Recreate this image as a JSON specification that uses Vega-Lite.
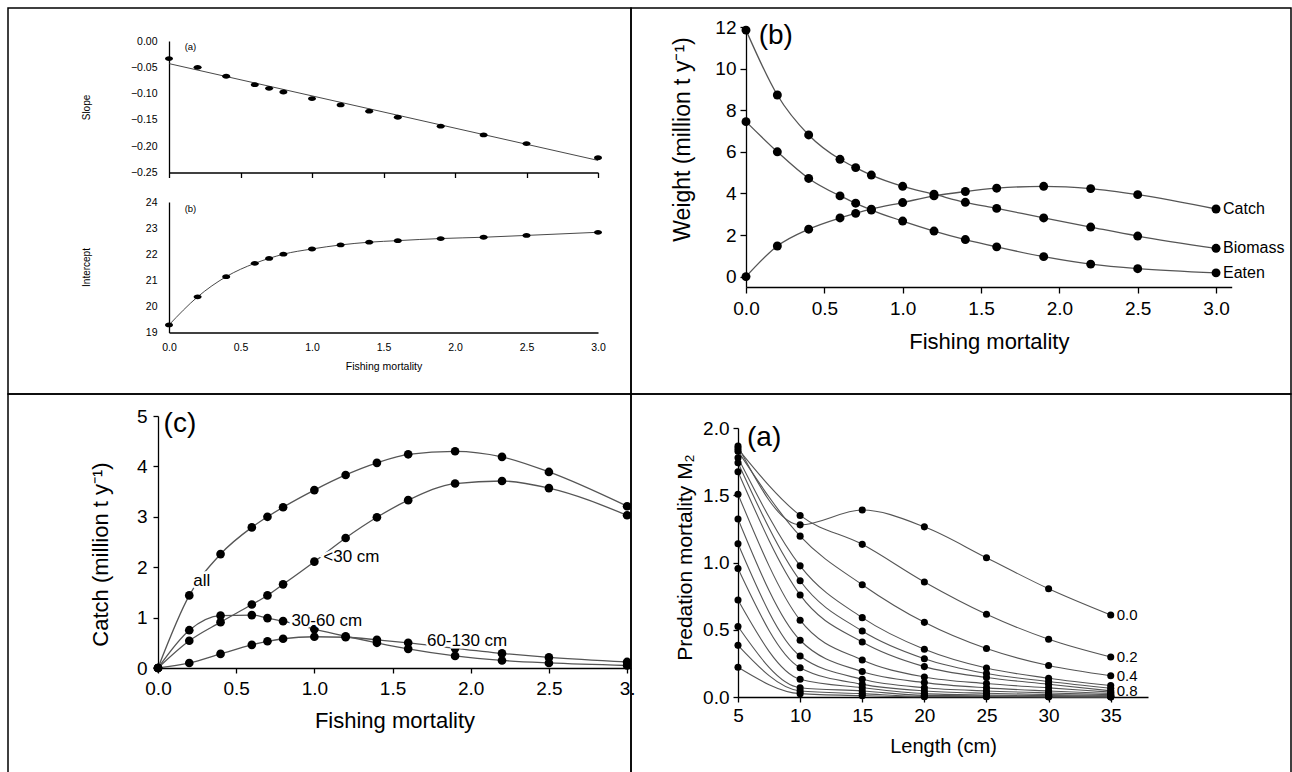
{
  "$schema": "https://vega.github.io/schema/vega-lite/v6.json",
  "padding": {"left": 7, "top": 7, "right": 0, "bottom": 0},
  "background": "white",
  "datasets": {
    "tl_slope": [
      {"F": 0, "slope": -0.0335}, {"F": 0.2, "slope": -0.05}, {"F": 0.4, "slope": -0.067}, {"F": 0.6, "slope": -0.083},
      {"F": 0.7, "slope": -0.09}, {"F": 0.8, "slope": -0.097}, {"F": 1.0, "slope": -0.1095}, {"F": 1.2, "slope": -0.1215},
      {"F": 1.4, "slope": -0.1335}, {"F": 1.6, "slope": -0.145}, {"F": 1.9, "slope": -0.162}, {"F": 2.2, "slope": -0.1785},
      {"F": 2.5, "slope": -0.195}, {"F": 3.0, "slope": -0.222}
    ],
    "tl_fit": [{"F": 0, "slope": -0.043}, {"F": 3.0, "slope": -0.227}],
    "tl_int": [
      {"F": 0, "intercept": 19.29}, {"F": 0.2, "intercept": 20.365}, {"F": 0.4, "intercept": 21.14}, {"F": 0.6, "intercept": 21.65},
      {"F": 0.7, "intercept": 21.84}, {"F": 0.8, "intercept": 22.0}, {"F": 1.0, "intercept": 22.2}, {"F": 1.2, "intercept": 22.355},
      {"F": 1.4, "intercept": 22.46}, {"F": 1.6, "intercept": 22.52}, {"F": 1.9, "intercept": 22.6}, {"F": 2.2, "intercept": 22.65},
      {"F": 2.5, "intercept": 22.72}, {"F": 3.0, "intercept": 22.84}
    ],
    "tr": [
      {"series": "Catch", "F": 0, "W": 0}, {"series": "Catch", "F": 0.2, "W": 1.47}, {"series": "Catch", "F": 0.4, "W": 2.28}, {"series": "Catch", "F": 0.6, "W": 2.82},
      {"series": "Catch", "F": 0.7, "W": 3.04}, {"series": "Catch", "F": 0.8, "W": 3.24}, {"series": "Catch", "F": 1.0, "W": 3.56}, {"series": "Catch", "F": 1.2, "W": 3.88},
      {"series": "Catch", "F": 1.4, "W": 4.09}, {"series": "Catch", "F": 1.6, "W": 4.25}, {"series": "Catch", "F": 1.9, "W": 4.34}, {"series": "Catch", "F": 2.2, "W": 4.23},
      {"series": "Catch", "F": 2.5, "W": 3.94}, {"series": "Catch", "F": 3.0, "W": 3.25},
      {"series": "Biomass", "F": 0, "W": 11.85}, {"series": "Biomass", "F": 0.2, "W": 8.73}, {"series": "Biomass", "F": 0.4, "W": 6.81}, {"series": "Biomass", "F": 0.6, "W": 5.64},
      {"series": "Biomass", "F": 0.7, "W": 5.24}, {"series": "Biomass", "F": 0.8, "W": 4.88}, {"series": "Biomass", "F": 1.0, "W": 4.34}, {"series": "Biomass", "F": 1.2, "W": 3.96},
      {"series": "Biomass", "F": 1.4, "W": 3.57}, {"series": "Biomass", "F": 1.6, "W": 3.28}, {"series": "Biomass", "F": 1.9, "W": 2.82}, {"series": "Biomass", "F": 2.2, "W": 2.38},
      {"series": "Biomass", "F": 2.5, "W": 1.95}, {"series": "Biomass", "F": 3.0, "W": 1.36},
      {"series": "Eaten", "F": 0, "W": 7.45}, {"series": "Eaten", "F": 0.2, "W": 6.0}, {"series": "Eaten", "F": 0.4, "W": 4.72}, {"series": "Eaten", "F": 0.6, "W": 3.88},
      {"series": "Eaten", "F": 0.7, "W": 3.53}, {"series": "Eaten", "F": 0.8, "W": 3.2}, {"series": "Eaten", "F": 1.0, "W": 2.67}, {"series": "Eaten", "F": 1.2, "W": 2.19},
      {"series": "Eaten", "F": 1.4, "W": 1.78}, {"series": "Eaten", "F": 1.6, "W": 1.43}, {"series": "Eaten", "F": 1.9, "W": 0.96}, {"series": "Eaten", "F": 2.2, "W": 0.6},
      {"series": "Eaten", "F": 2.5, "W": 0.38}, {"series": "Eaten", "F": 3.0, "W": 0.18}
    ],
    "bl": [
      {"group": "all", "F": 0, "C": 0}, {"group": "all", "F": 0.2, "C": 1.44}, {"group": "all", "F": 0.4, "C": 2.26}, {"group": "all", "F": 0.6, "C": 2.79},
      {"group": "all", "F": 0.7, "C": 3.0}, {"group": "all", "F": 0.8, "C": 3.19}, {"group": "all", "F": 1.0, "C": 3.53}, {"group": "all", "F": 1.2, "C": 3.83},
      {"group": "all", "F": 1.4, "C": 4.07}, {"group": "all", "F": 1.6, "C": 4.24}, {"group": "all", "F": 1.9, "C": 4.3}, {"group": "all", "F": 2.2, "C": 4.19},
      {"group": "all", "F": 2.5, "C": 3.89}, {"group": "all", "F": 3.0, "C": 3.21},
      {"group": "<30 cm", "F": 0, "C": 0}, {"group": "<30 cm", "F": 0.2, "C": 0.54}, {"group": "<30 cm", "F": 0.4, "C": 0.91}, {"group": "<30 cm", "F": 0.6, "C": 1.26},
      {"group": "<30 cm", "F": 0.7, "C": 1.44}, {"group": "<30 cm", "F": 0.8, "C": 1.66}, {"group": "<30 cm", "F": 1.0, "C": 2.11}, {"group": "<30 cm", "F": 1.2, "C": 2.58},
      {"group": "<30 cm", "F": 1.4, "C": 2.99}, {"group": "<30 cm", "F": 1.6, "C": 3.33}, {"group": "<30 cm", "F": 1.9, "C": 3.66}, {"group": "<30 cm", "F": 2.2, "C": 3.71},
      {"group": "<30 cm", "F": 2.5, "C": 3.57}, {"group": "<30 cm", "F": 3.0, "C": 3.03},
      {"group": "30-60 cm", "F": 0, "C": 0}, {"group": "30-60 cm", "F": 0.2, "C": 0.75}, {"group": "30-60 cm", "F": 0.4, "C": 1.04}, {"group": "30-60 cm", "F": 0.6, "C": 1.05},
      {"group": "30-60 cm", "F": 0.7, "C": 0.99}, {"group": "30-60 cm", "F": 0.8, "C": 0.93}, {"group": "30-60 cm", "F": 1.0, "C": 0.77}, {"group": "30-60 cm", "F": 1.2, "C": 0.63},
      {"group": "30-60 cm", "F": 1.4, "C": 0.5}, {"group": "30-60 cm", "F": 1.6, "C": 0.38}, {"group": "30-60 cm", "F": 1.9, "C": 0.24}, {"group": "30-60 cm", "F": 2.2, "C": 0.15},
      {"group": "30-60 cm", "F": 2.5, "C": 0.1}, {"group": "30-60 cm", "F": 3.0, "C": 0.05},
      {"group": "60-130 cm", "F": 0, "C": 0}, {"group": "60-130 cm", "F": 0.2, "C": 0.1}, {"group": "60-130 cm", "F": 0.4, "C": 0.28}, {"group": "60-130 cm", "F": 0.6, "C": 0.46},
      {"group": "60-130 cm", "F": 0.7, "C": 0.53}, {"group": "60-130 cm", "F": 0.8, "C": 0.58}, {"group": "60-130 cm", "F": 1.0, "C": 0.62}, {"group": "60-130 cm", "F": 1.2, "C": 0.61},
      {"group": "60-130 cm", "F": 1.4, "C": 0.56}, {"group": "60-130 cm", "F": 1.6, "C": 0.5}, {"group": "60-130 cm", "F": 1.9, "C": 0.39}, {"group": "60-130 cm", "F": 2.2, "C": 0.29},
      {"group": "60-130 cm", "F": 2.5, "C": 0.21}, {"group": "60-130 cm", "F": 3.0, "C": 0.12}
    ],
    "bl_labels": [
      {"F": 0.225, "C": 1.72, "label": "all"},
      {"F": 1.057, "C": 2.2, "label": "<30 cm"},
      {"F": 0.853, "C": 0.93, "label": "30-60 cm"},
      {"F": 1.72, "C": 0.54, "label": "60-130 cm"}
    ],
    "br": [
      {"F": 0.0, "L": 5, "M": 1.865}, {"F": 0.0, "L": 10, "M": 1.28}, {"F": 0.0, "L": 15, "M": 1.39}, {"F": 0.0, "L": 20, "M": 1.265}, {"F": 0.0, "L": 25, "M": 1.035}, {"F": 0.0, "L": 30, "M": 0.805}, {"F": 0.0, "L": 35, "M": 0.61},
      {"F": 0.2, "L": 5, "M": 1.845}, {"F": 0.2, "L": 10, "M": 1.35}, {"F": 0.2, "L": 15, "M": 1.135}, {"F": 0.2, "L": 20, "M": 0.855}, {"F": 0.2, "L": 25, "M": 0.615}, {"F": 0.2, "L": 30, "M": 0.43}, {"F": 0.2, "L": 35, "M": 0.298},
      {"F": 0.4, "L": 5, "M": 1.828}, {"F": 0.4, "L": 10, "M": 1.196}, {"F": 0.4, "L": 15, "M": 0.835}, {"F": 0.4, "L": 20, "M": 0.555}, {"F": 0.4, "L": 25, "M": 0.36}, {"F": 0.4, "L": 30, "M": 0.234}, {"F": 0.4, "L": 35, "M": 0.158},
      {"F": 0.6, "L": 5, "M": 1.779}, {"F": 0.6, "L": 10, "M": 0.975}, {"F": 0.6, "L": 15, "M": 0.59}, {"F": 0.6, "L": 20, "M": 0.355}, {"F": 0.6, "L": 25, "M": 0.215}, {"F": 0.6, "L": 30, "M": 0.14}, {"F": 0.6, "L": 35, "M": 0.085},
      {"F": 0.7, "L": 5, "M": 1.742}, {"F": 0.7, "L": 10, "M": 0.864}, {"F": 0.7, "L": 15, "M": 0.491}, {"F": 0.7, "L": 20, "M": 0.285}, {"F": 0.7, "L": 25, "M": 0.175}, {"F": 0.7, "L": 30, "M": 0.115}, {"F": 0.7, "L": 35, "M": 0.065},
      {"F": 0.8, "L": 5, "M": 1.675}, {"F": 0.8, "L": 10, "M": 0.759}, {"F": 0.8, "L": 15, "M": 0.409}, {"F": 0.8, "L": 20, "M": 0.226}, {"F": 0.8, "L": 25, "M": 0.145}, {"F": 0.8, "L": 30, "M": 0.095}, {"F": 0.8, "L": 35, "M": 0.046},
      {"F": 1.0, "L": 5, "M": 1.508}, {"F": 1.0, "L": 10, "M": 0.571}, {"F": 1.0, "L": 15, "M": 0.275}, {"F": 1.0, "L": 20, "M": 0.149}, {"F": 1.0, "L": 25, "M": 0.1}, {"F": 1.0, "L": 30, "M": 0.068}, {"F": 1.0, "L": 35, "M": 0.036},
      {"F": 1.2, "L": 5, "M": 1.324}, {"F": 1.2, "L": 10, "M": 0.422}, {"F": 1.2, "L": 15, "M": 0.189}, {"F": 1.2, "L": 20, "M": 0.107}, {"F": 1.2, "L": 25, "M": 0.068}, {"F": 1.2, "L": 30, "M": 0.045}, {"F": 1.2, "L": 35, "M": 0.026},
      {"F": 1.4, "L": 5, "M": 1.139}, {"F": 1.4, "L": 10, "M": 0.305}, {"F": 1.4, "L": 15, "M": 0.132}, {"F": 1.4, "L": 20, "M": 0.069}, {"F": 1.4, "L": 25, "M": 0.045}, {"F": 1.4, "L": 30, "M": 0.03}, {"F": 1.4, "L": 35, "M": 0.018},
      {"F": 1.6, "L": 5, "M": 0.955}, {"F": 1.6, "L": 10, "M": 0.218}, {"F": 1.6, "L": 15, "M": 0.094}, {"F": 1.6, "L": 20, "M": 0.045}, {"F": 1.6, "L": 25, "M": 0.028}, {"F": 1.6, "L": 30, "M": 0.018}, {"F": 1.6, "L": 35, "M": 0.011},
      {"F": 1.9, "L": 5, "M": 0.721}, {"F": 1.9, "L": 10, "M": 0.132}, {"F": 1.9, "L": 15, "M": 0.069}, {"F": 1.9, "L": 20, "M": 0.025}, {"F": 1.9, "L": 25, "M": 0.015}, {"F": 1.9, "L": 30, "M": 0.01}, {"F": 1.9, "L": 35, "M": 0.006},
      {"F": 2.2, "L": 5, "M": 0.524}, {"F": 2.2, "L": 10, "M": 0.069}, {"F": 2.2, "L": 15, "M": 0.045}, {"F": 2.2, "L": 20, "M": 0.012}, {"F": 2.2, "L": 25, "M": 0.008}, {"F": 2.2, "L": 30, "M": 0.005}, {"F": 2.2, "L": 35, "M": 0.003},
      {"F": 2.5, "L": 5, "M": 0.384}, {"F": 2.5, "L": 10, "M": 0.045}, {"F": 2.5, "L": 15, "M": 0.025}, {"F": 2.5, "L": 20, "M": 0.005}, {"F": 2.5, "L": 25, "M": 0.004}, {"F": 2.5, "L": 30, "M": 0.002}, {"F": 2.5, "L": 35, "M": 0.001},
      {"F": 3.0, "L": 5, "M": 0.221}, {"F": 3.0, "L": 10, "M": 0.025}, {"F": 3.0, "L": 15, "M": 0.01}, {"F": 3.0, "L": 20, "M": 0.002}, {"F": 3.0, "L": 25, "M": 0.002}, {"F": 3.0, "L": 30, "M": 0.001}, {"F": 3.0, "L": 35, "M": 0.0}
    ]
  },
  "columns": 2,
  "spacing": 0,
  "bounds": "flush",
  "concat": [
    {
      "width": 623,
      "height": 386,
      "layer": [
        {
          "encoding": {
            "x": {"field": "F", "type": "quantitative",
              "scale": {"domain": [0, 3], "range": [161, 590], "nice": false, "zero": false},
              "axis": {"orient": "bottom", "offset": -221.5, "labels": false, "ticks": true, "tickSize": 5, "values": [0, 0.5, 1, 1.5, 2, 2.5, 3], "title": null}},
            "y": {"field": "slope", "type": "quantitative",
              "scale": {"domain": [-0.25, 0], "range": [164.5, 33], "nice": false, "zero": false},
              "axis": {"orient": "left", "offset": -161, "values": [-0.25, -0.2, -0.15, -0.1, -0.05, 0], "format": ".2f", "ticks": false, "labelPadding": 12, "labelFontSize": 10.5, "title": "Slope", "titleFontSize": 10, "titleX": -78, "titleY": 99}}
          },
          "layer": [
            {"data": {"name": "tl_fit"}, "mark": {"type": "line", "color": "#333", "strokeWidth": 0.9}},
            {"data": {"name": "tl_slope"}, "mark": {"type": "point", "filled": true, "shape": "M -1 0 A 1 0.6 0 1 1 1 0 A 1 0.6 0 1 1 -1 0 Z", "size": 64, "color": "black", "opacity": 1}},
            {"data": {"values": [{"F": 0.15, "slope": -0.0115, "label": "(a)"}]}, "mark": {"type": "text", "fontSize": 9.5, "color": "black"}, "encoding": {"text": {"field": "label"}}}
          ]
        },
        {
          "encoding": {
            "x": {"field": "F", "type": "quantitative",
              "scale": {"domain": [0, 3], "range": [161, 590], "nice": false, "zero": false},
              "axis": {"orient": "bottom", "offset": -61.5, "ticks": false, "labelPadding": 10, "values": [0, 0.5, 1, 1.5, 2, 2.5, 3], "format": ".1f", "labelFontSize": 10.5, "title": "Fishing mortality", "titleFontSize": 10.5, "titlePadding": 8}},
            "y": {"field": "intercept", "type": "quantitative",
              "scale": {"domain": [19, 24], "range": [324.5, 194], "nice": false, "zero": false},
              "axis": {"orient": "left", "offset": -161, "values": [19, 20, 21, 22, 23, 24], "format": "d", "ticks": false, "labelPadding": 12, "labelFontSize": 10.5, "title": "Intercept", "titleFontSize": 10, "titleX": -78, "titleY": 259}}
          },
          "layer": [
            {"data": {"name": "tl_int"}, "mark": {"type": "line", "interpolate": "monotone", "color": "#333", "strokeWidth": 0.9}},
            {"data": {"name": "tl_int"}, "mark": {"type": "point", "filled": true, "shape": "M -1 0 A 1 0.6 0 1 1 1 0 A 1 0.6 0 1 1 -1 0 Z", "size": 64, "color": "black", "opacity": 1}},
            {"data": {"values": [{"F": 0.15, "intercept": 23.73, "label": "(b)"}]}, "mark": {"type": "text", "fontSize": 9.5, "color": "black"}, "encoding": {"text": {"field": "label"}}}
          ]
        }
      ],
      "resolve": {"scale": {"x": "independent", "y": "independent"}, "axis": {"x": "independent", "y": "independent"}}
    },
    {
      "width": 660,
      "height": 386,
      "encoding": {
        "x": {"field": "F", "type": "quantitative",
          "scale": {"domain": [0, 3.1], "range": [115, 600.7], "nice": false, "zero": false},
          "axis": {"orient": "bottom", "offset": -107, "values": [0, 0.5, 1, 1.5, 2, 2.5, 3], "format": ".1f", "tickSize": 6, "labelPadding": 6, "labelFontSize": 19, "title": "Fishing mortality", "titleFontSize": 22, "titlePadding": 13}},
        "y": {"field": "W", "type": "quantitative",
          "scale": {"domain": [-0.5, 12], "range": [279, 19], "nice": false, "zero": false},
          "axis": {"orient": "left", "offset": -115, "values": [0, 2, 4, 6, 8, 10, 12], "tickSize": 6, "labelPadding": 4, "labelFontSize": 19, "title": "Weight (million t y⁻¹)", "titleFontSize": 23, "titleX": -52, "titleY": 131}}
      },
      "layer": [
        {"data": {"name": "tr"}, "mark": {"type": "line", "interpolate": "monotone", "color": "#555", "strokeWidth": 1.3}, "encoding": {"detail": {"field": "series"}}},
        {"data": {"name": "tr"}, "mark": {"type": "circle", "color": "black", "size": 80, "opacity": 1}},
        {"data": {"name": "tr"}, "transform": [{"filter": "datum.F == 3"}], "mark": {"type": "text", "align": "left", "baseline": "middle", "dx": 7, "fontSize": 16, "color": "black"}, "encoding": {"text": {"field": "series"}}},
        {"data": {"values": [{"F": 0.19, "W": 11.57, "label": "(b)"}]}, "mark": {"type": "text", "fontSize": 28, "align": "center", "baseline": "middle", "color": "black"}, "encoding": {"text": {"field": "label"}}}
      ]
    },
    {
      "width": 623,
      "height": 381,
      "encoding": {
        "x": {"field": "F", "type": "quantitative",
          "scale": {"domain": [0, 3.025], "range": [150, 623], "nice": false, "zero": false},
          "axis": {"orient": "bottom", "offset": -107, "values": [0, 0.5, 1, 1.5, 2, 2.5, 3], "format": ".1f", "labelExpr": "datum.value == 3 ? '3.' : datum.label", "tickSize": 5, "labelPadding": 6, "labelFontSize": 19, "title": "Fishing mortality", "titleFontSize": 22, "titlePadding": 12}},
        "y": {"field": "C", "type": "quantitative",
          "scale": {"domain": [0, 5], "range": [274, 22], "nice": false, "zero": false},
          "axis": {"orient": "left", "offset": -150, "values": [0, 1, 2, 3, 4, 5], "tickSize": 5, "labelPadding": 6, "labelFontSize": 19, "title": "Catch (million t y⁻¹)", "titleFontSize": 22, "titleX": -46, "titleY": 160}}
      },
      "layer": [
        {"data": {"name": "bl"}, "mark": {"type": "line", "interpolate": "monotone", "color": "#555", "strokeWidth": 1.3, "clip": true}, "encoding": {"detail": {"field": "group"}}},
        {"data": {"name": "bl"}, "mark": {"type": "circle", "color": "black", "size": 75, "opacity": 1, "clip": true}},
        {"data": {"name": "bl_labels"}, "mark": {"type": "text", "align": "left", "baseline": "middle", "fontSize": 17, "color": "white", "stroke": "white", "strokeWidth": 5}, "encoding": {"text": {"field": "label"}}},
        {"data": {"name": "bl_labels"}, "mark": {"type": "text", "align": "left", "baseline": "middle", "fontSize": 17, "color": "black"}, "encoding": {"text": {"field": "label"}}},
        {"data": {"values": [{"F": 0.14, "C": 4.85, "label": "(c)"}]}, "mark": {"type": "text", "fontSize": 28, "align": "center", "baseline": "middle", "color": "black"}, "encoding": {"text": {"field": "label"}}}
      ]
    },
    {
      "width": 660,
      "height": 381,
      "encoding": {
        "x": {"field": "L", "type": "quantitative",
          "scale": {"domain": [5, 38], "range": [107, 517], "nice": false, "zero": false},
          "axis": {"orient": "bottom", "offset": -78, "values": [5, 10, 15, 20, 25, 30, 35], "tickSize": 5, "labelPadding": 4, "labelFontSize": 19, "title": "Length (cm)", "titleFontSize": 20, "titlePadding": 11}},
        "y": {"field": "M", "type": "quantitative",
          "scale": {"domain": [0, 2], "range": [303, 34], "nice": false, "zero": false},
          "axis": {"orient": "left", "offset": -107, "values": [0, 0.5, 1, 1.5, 2], "format": ".1f", "tickSize": 5, "labelPadding": 4, "labelFontSize": 19, "title": "Predation mortality M₂", "titleFontSize": 21, "titleX": -43, "titleY": 163}}
      },
      "layer": [
        {"data": {"name": "br"}, "mark": {"type": "line", "interpolate": "monotone", "color": "#555", "strokeWidth": 1.1}, "encoding": {"detail": {"field": "F", "type": "nominal"}}},
        {"data": {"name": "br"}, "mark": {"type": "circle", "color": "black", "size": 50, "opacity": 1}},
        {"data": {"name": "br"}, "transform": [{"filter": "datum.L == 35 && (datum.F == 0 || datum.F == 0.2 || datum.F == 0.4 || datum.F == 0.8)"}], "mark": {"type": "text", "align": "left", "baseline": "middle", "dx": 6, "fontSize": 15, "color": "black"}, "encoding": {"text": {"field": "F", "type": "quantitative", "format": ".1f"}}},
        {"data": {"values": [{"L": 7.1, "M": 1.926, "label": "(a)"}]}, "mark": {"type": "text", "fontSize": 28, "align": "center", "baseline": "middle", "color": "black"}, "encoding": {"text": {"field": "label"}}}
      ]
    }
  ],
  "config": {
    "font": "Liberation Sans",
    "view": {"stroke": "black", "strokeWidth": 1.5},
    "axis": {"grid": false, "domainColor": "black", "tickColor": "black", "labelColor": "black", "titleColor": "black", "titleFontWeight": "normal", "domainWidth": 1.3, "tickWidth": 1.3, "labelFont": "Liberation Sans", "titleFont": "Liberation Sans", "labelFlush": false, "labelOverlap": false},
    "text": {"font": "Liberation Sans"}
  }
}
